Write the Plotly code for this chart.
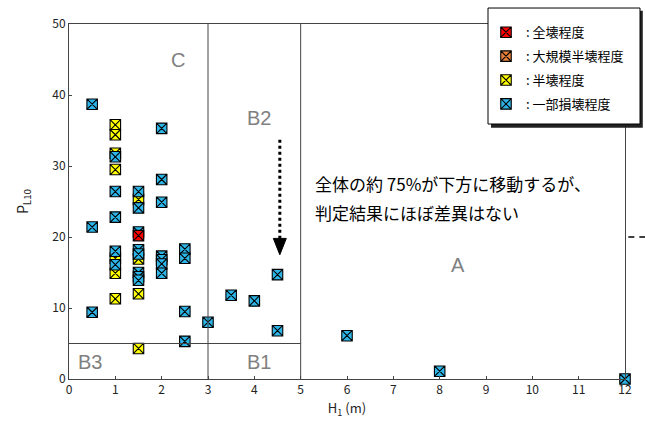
import plotly.graph_objects as go

# ---- data ----
red_x = [1.5]
red_y = [20.2]

orange_x = [None]
orange_y = [None]

yellow_x = [1, 1, 1, 1, 1, 1, 1, 1.5, 1.5, 1.5, 1.5]
yellow_y = [35.8, 34.4, 31.8, 29.5, 17.0, 14.9, 11.3, 25.3, 16.9, 12.0, 4.3]

blue_x = [0.5, 0.5, 0.5,
          1, 1, 1, 1, 1,
          1.5, 1.5, 1.5, 1.5, 1.5, 1.5, 1.5, 1.5,
          2, 2, 2, 2, 2, 2, 2,
          2.5, 2.5, 2.5, 2.5,
          3, 3.5, 4, 4.5, 4.5, 6, 8, 12]
blue_y = [38.7, 21.4, 9.4,
          31.3, 26.4, 22.8, 18.0, 16.1,
          26.4, 24.1, 20.7, 18.2, 17.6, 15.0, 14.4, 13.9,
          35.3, 28.1, 24.9, 17.3, 16.8, 16.2, 14.9,
          18.3, 17.0, 9.5, 5.3,
          8.0, 11.8, 11.0, 14.7, 6.8, 6.1, 1.1, 0.0]

series_names = [": 全壊程度", ": 大規模半壊程度", ": 半壊程度", ": 一部損壊程度"]
series_colors = ["#FF0000", "#E8803A", "#FFFF00", "#2DB5E8"]

x_ticks = list(range(0, 13))
y_ticks = [0, 10, 20, 30, 40, 50]

region_labels = ["C", "B2", "A", "B3", "B1"]
region_label_x = [2.35, 4.1, 8.4, 0.45, 4.1]
region_label_y = [44.9, 36.8, 16.0, 2.4, 2.4]

note_lines = ["全体の約 75%が下方に移動するが、", "判定結果にほぼ差異はない"]

# ---- figure ----
FONT = "Noto Sans CJK JP"
fig = go.Figure()

draw_order = [(yellow_x, yellow_y, 2), (orange_x, orange_y, 1), (blue_x, blue_y, 3), (red_x, red_y, 0)]
for xs, ys, idx in draw_order:
    fig.add_trace(go.Scatter(
        x=xs, y=ys, mode="markers", name=series_names[idx],
        legendrank=idx + 1, legendgroup=str(idx),
        cliponaxis=False,
        marker=dict(symbol="square-x", size=10.5, color=series_colors[idx],
                    line=dict(color="black", width=1.1)),
    ))

shapes = []
line_col = "#444444"
# region boundaries
shapes.append(dict(type="line", xref="x", yref="y", x0=3, x1=3, y0=0, y1=50, line=dict(color=line_col, width=1)))
shapes.append(dict(type="line", xref="x", yref="y", x0=5, x1=5, y0=0, y1=50, line=dict(color=line_col, width=1)))
shapes.append(dict(type="line", xref="x", yref="y", x0=0, x1=5, y0=5, y1=5, line=dict(color=line_col, width=1)))
# dotted arrow
shapes.append(dict(type="line", xref="x", yref="y", x0=4.55, x1=4.55, y0=33.7, y1=19.6,
                   line=dict(color="black", width=3, dash="dot")))
shapes.append(dict(type="path", xref="x", yref="y",
                   path="M 4.41,19.8 L 4.69,19.8 L 4.55,17.5 Z",
                   fillcolor="black", line=dict(color="black", width=1)))
# dashed stub outside right
shapes.append(dict(type="line", xref="paper", yref="y", x0=1.006, x1=1.045, y0=20, y1=20,
                   line=dict(color="black", width=1.5, dash="6px,5px")))
# legend box with shadow
shapes.append(dict(type="rect", xref="paper", yref="paper", x0=0.759, x1=1.032, y0=0.708, y1=1.037,
                   fillcolor="#222222", line=dict(width=0), layer="above"))
shapes.append(dict(type="rect", xref="paper", yref="paper", x0=0.7536, x1=1.027, y0=0.7183, y1=1.045,
                   fillcolor="white", line=dict(color="black", width=1), layer="above"))

annotations = []
for t, lx, ly in zip(region_labels, region_label_x, region_label_y):
    annotations.append(dict(x=lx, y=ly, xref="x", yref="y", text=t, showarrow=False,
                            font=dict(family="Liberation Sans", size=20, color="#808080")))
for i, t in enumerate(note_lines):
    annotations.append(dict(x=5.27, y=[27.6, 23.5][i], xref="x", yref="y", text=t, showarrow=False,
                            xanchor="left", font=dict(family=FONT, size=17, color="black")))

fig.update_layout(
    width=645, height=433,
    margin=dict(l=69, r=20, t=24, b=54),
    paper_bgcolor="white", plot_bgcolor="white",
    font=dict(family=FONT, size=12, color="#222222"),
    shapes=shapes, annotations=annotations,
    showlegend=True,
    legend=dict(x=0.750, y=1.019, xanchor="left", yanchor="top",
                bgcolor="rgba(0,0,0,0)", borderwidth=0,
                tracegroupgap=4, font=dict(family=FONT, size=13, color="black"),
                itemclick=False),
    xaxis=dict(range=[0, 12], tickvals=x_ticks, ticks="inside", ticklen=3,
               showline=True, mirror=True, linecolor=line_col, linewidth=1,
               showgrid=False, zeroline=False,
               tickfont=dict(family=FONT, size=12),
               title=dict(text="H<sub>1</sub> (m)", standoff=7, font=dict(family=FONT, size=13))),
    yaxis=dict(range=[0, 50], tickvals=y_ticks, ticks="inside", ticklen=3,
               showline=True, mirror=True, linecolor=line_col, linewidth=1,
               showgrid=False, zeroline=False,
               tickfont=dict(family=FONT, size=12),
               title=dict(text="P<sub>L10</sub>", standoff=20, font=dict(family=FONT, size=14))),
)

fig.write_html("out.html")
